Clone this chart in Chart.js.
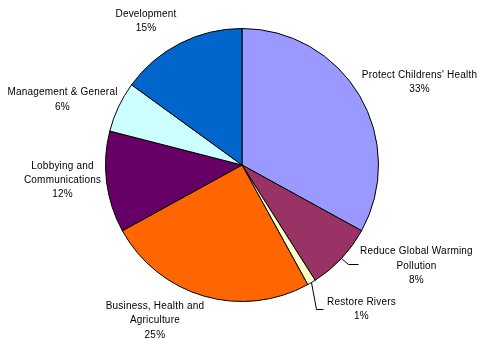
<!DOCTYPE html>
<html>
<head>
<meta charset="utf-8">
<script src="https://cdn.jsdelivr.net/npm/chart.js@4/dist/chart.umd.min.js"></script>
<style>
  html, body { margin: 0; padding: 0; background: #fff; }
  canvas { display: block; }
</style>
</head>
<body>
<canvas id="pieChart" width="477" height="339"></canvas>
<script>
// Slice names (multi-line as shown on the chart) and their shares in percent
const categories = [
  ["Protect Childrens' Health"],
  ["Reduce Global Warming", "Pollution"],
  ["Restore Rivers"],
  ["Business, Health and", "Agriculture"],
  ["Lobbying and", "Communications"],
  ["Management & General"],
  ["Development"]
];
const shares = [33, 8, 1, 25, 12, 6, 15];
const sliceColors = ["#9999FF", "#993366", "#FFFFCC", "#FF6600", "#660066", "#CCFFFF", "#0066CC"];

// where each label block sits, relative to the slice's outer edge point
const labelOffsets = [[60, -13.5], [75, 7.5], [50, 27], [-49, 24.5], [-44, -2], [-56, -7], [-34, -22]];
// leader lines (bend point, end point), relative to the edge point
const leaders = [null, [[6, 6], [16, 6]], [[4.5, 26.5], [11.5, 26.5]], null, null, null, null];

const outsideLabels = {
  id: "outsideLabels",
  afterDraw(chart) {
    const ctx = chart.ctx;
    const meta = chart.getDatasetMeta(0);
    const total = shares.reduce((a, b) => a + b, 0);
    ctx.save();
    ctx.font = "10px 'Liberation Sans', Arial, sans-serif";
    ctx.letterSpacing = "0.2px";
    ctx.fillStyle = "#000";
    ctx.strokeStyle = "#000";
    ctx.lineWidth = 1;
    ctx.textAlign = "center";
    ctx.textBaseline = "middle";
    meta.data.forEach((arc, i) => {
      const p = arc.getProps(["x", "y", "startAngle", "endAngle", "outerRadius"], true);
      const mid = (p.startAngle + p.endAngle) / 2;
      const ex = p.x + Math.cos(mid) * p.outerRadius;
      const ey = p.y + Math.sin(mid) * p.outerRadius;
      if (leaders[i]) {
        ctx.beginPath();
        ctx.moveTo(ex, ey);
        leaders[i].forEach(pt => ctx.lineTo(Math.round(ex + pt[0]) + 0.5, Math.round(ey + pt[1]) + 0.5));
        ctx.stroke();
      }
      const lines = categories[i].concat([Math.round(shares[i] / total * 100) + "%"]);
      const cx = ex + labelOffsets[i][0];
      const cy = ey + labelOffsets[i][1];
      lines.forEach((t, j) => {
        ctx.fillText(t, cx, cy + (j - (lines.length - 1) / 2) * 14.3);
      });
    });
    ctx.restore();
  }
};

new Chart(document.getElementById("pieChart"), {
  type: "pie",
  data: {
    labels: categories.map(c => c.join(" ")),
    datasets: [{
      data: shares,
      backgroundColor: sliceColors,
      borderColor: "#000",
      borderWidth: 1
    }]
  },
  options: {
    responsive: false,
    animation: false,
    layout: { padding: { top: 28, bottom: 37, left: 105, right: 98 } },
    plugins: {
      legend: { display: false },
      tooltip: { enabled: false }
    }
  },
  plugins: [outsideLabels]
});
</script>
</body>
</html>
